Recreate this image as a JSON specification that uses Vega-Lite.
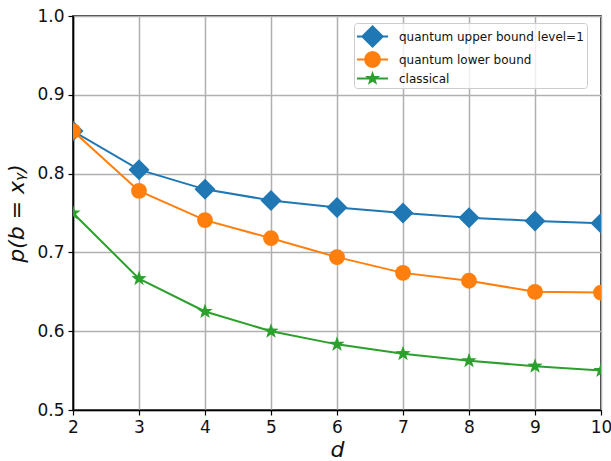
{
  "$schema": "https://vega.github.io/schema/vega-lite/v6.json",
  "width": 528,
  "height": 394,
  "autosize": {"type": "none"},
  "padding": {"left": 73, "top": 16, "right": 10, "bottom": 51},
  "background": "white",
  "config": {
    "font": "DejaVu Sans",
    "view": {"stroke": "black", "strokeWidth": 1.6},
    "axis": {
      "domainColor": "black",
      "domainWidth": 1.6,
      "tickColor": "black",
      "tickWidth": 1.2,
      "tickSize": 5,
      "gridColor": "#b0b0b0",
      "gridWidth": 1.5,
      "labelFont": "DejaVu Sans",
      "labelFontSize": 17,
      "labelColor": "#111",
      "titleFont": "DejaVu Sans",
      "titleFontSize": 22,
      "titleFontStyle": "italic",
      "titleFontWeight": "normal",
      "titleColor": "#111"
    }
  },
  "data": {
    "values": [
      {"d": 2, "p": 0.854, "series": "quantum upper bound level=1"},
      {"d": 3, "p": 0.805, "series": "quantum upper bound level=1"},
      {"d": 4, "p": 0.780, "series": "quantum upper bound level=1"},
      {"d": 5, "p": 0.766, "series": "quantum upper bound level=1"},
      {"d": 6, "p": 0.757, "series": "quantum upper bound level=1"},
      {"d": 7, "p": 0.750, "series": "quantum upper bound level=1"},
      {"d": 8, "p": 0.744, "series": "quantum upper bound level=1"},
      {"d": 9, "p": 0.740, "series": "quantum upper bound level=1"},
      {"d": 10, "p": 0.737, "series": "quantum upper bound level=1"},
      {"d": 2, "p": 0.854, "series": "quantum lower bound"},
      {"d": 3, "p": 0.778, "series": "quantum lower bound"},
      {"d": 4, "p": 0.741, "series": "quantum lower bound"},
      {"d": 5, "p": 0.718, "series": "quantum lower bound"},
      {"d": 6, "p": 0.694, "series": "quantum lower bound"},
      {"d": 7, "p": 0.674, "series": "quantum lower bound"},
      {"d": 8, "p": 0.664, "series": "quantum lower bound"},
      {"d": 9, "p": 0.650, "series": "quantum lower bound"},
      {"d": 10, "p": 0.649, "series": "quantum lower bound"},
      {"d": 2, "p": 0.75, "series": "classical"},
      {"d": 3, "p": 0.6667, "series": "classical"},
      {"d": 4, "p": 0.625, "series": "classical"},
      {"d": 5, "p": 0.6, "series": "classical"},
      {"d": 6, "p": 0.5833, "series": "classical"},
      {"d": 7, "p": 0.5714, "series": "classical"},
      {"d": 8, "p": 0.5625, "series": "classical"},
      {"d": 9, "p": 0.5556, "series": "classical"},
      {"d": 10, "p": 0.55, "series": "classical"}
    ]
  },
  "encoding": {
    "x": {
      "field": "d",
      "type": "quantitative",
      "scale": {"domain": [2, 10], "nice": false, "zero": false},
      "axis": {"title": "d", "values": [2, 3, 4, 5, 6, 7, 8, 9, 10], "labelPadding": 4, "titlePadding": 4, "labelFlush": false}
    },
    "y": {
      "field": "p",
      "type": "quantitative",
      "scale": {"domain": [0.5, 1.0], "nice": false, "zero": false},
      "axis": {"title": "p(b = xᵧ)", "values": [0.5, 0.6, 0.7, 0.8, 0.9, 1.0], "format": ".1f", "labelPadding": 4, "titlePadding": 8, "labelFlush": false}
    },
    "color": {
      "field": "series",
      "type": "nominal",
      "scale": {
        "domain": ["quantum upper bound level=1", "quantum lower bound", "classical"],
        "range": ["#1f77b4", "#ff7f0e", "#2ca02c"]
      },
      "legend": {
        "title": null,
        "orient": "none",
        "legendX": 281,
        "legendY": 7,
        "labelFont": "DejaVu Sans",
        "labelFontSize": 12,
        "labelColor": "#111",
        "fillColor": "rgba(255,255,255,0.8)",
        "strokeColor": "#cccccc",
        "cornerRadius": 3,
        "padding": 3,
        "rowPadding": 0,
        "symbolSize": 441,
        "symbolStrokeWidth": 0,
        "symbolOpacity": 1,
        "labelOffset": 21,
        "labelLimit": 400,
        "encode": {
          "symbols": {
            "update": {
              "fill": {"signal": "datum.value === 'classical' ? '#2ca02c' : datum.value === 'quantum lower bound' ? '#ff7f0e' : '#1f77b4'"},
              "strokeWidth": {"value": 0},
              "shape": {"signal": "datum.value === 'classical' ? 'M-1,-0.095H1.96V0.095H-1Z M0.48,-0.75L0.656,-0.243L1.193,-0.232L0.765,0.093L0.921,0.607L0.48,0.3L0.039,0.607L0.195,0.093L-0.233,-0.232L0.304,-0.243Z' : datum.value === 'quantum lower bound' ? 'M-1,-0.095H1.96V0.095H-1Z M1.28,0L1.219,0.306L1.046,0.566L0.786,0.739L0.48,0.8L0.174,0.739L-0.086,0.566L-0.259,0.306L-0.32,0L-0.259,-0.306L-0.086,-0.566L0.174,-0.739L0.48,-0.8L0.786,-0.739L1.046,-0.566L1.219,-0.306Z' : 'M-1,-0.095H1.96V0.095H-1Z M0.48,-1.1L1.58,0L0.48,1.1L-0.62,0Z'"}
            }
          }
        }
      }
    }
  },
  "layer": [
    {"mark": {"type": "line", "strokeWidth": 2, "clip": true}},
    {
      "transform": [{"filter": "datum.series === 'quantum upper bound level=1'"}],
      "mark": {"type": "point", "shape": "diamond", "size": 441, "filled": true, "opacity": 1, "clip": true, "strokeWidth": 0}
    },
    {
      "transform": [{"filter": "datum.series === 'quantum lower bound'"}],
      "mark": {"type": "point", "shape": "circle", "size": 250, "filled": true, "opacity": 1, "clip": true, "strokeWidth": 0}
    },
    {
      "transform": [{"filter": "datum.series === 'classical'"}],
      "mark": {"type": "point", "shape": "M0,-1L0.235,-0.324L0.951,-0.309L0.380,0.124L0.588,0.809L0,0.4L-0.588,0.809L-0.380,0.124L-0.951,-0.309L-0.235,-0.324Z", "size": 260, "filled": true, "opacity": 1, "clip": true, "strokeWidth": 0}
    }
  ]
}
